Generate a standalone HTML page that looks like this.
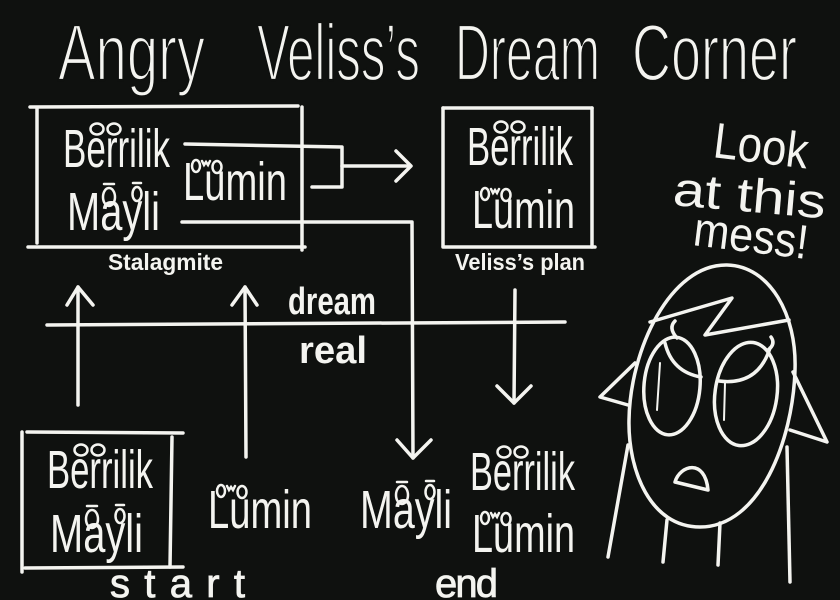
<!DOCTYPE html>
<html><head><meta charset="utf-8">
<style>
html,body{margin:0;padding:0;background:#0f110f;width:840px;height:600px;overflow:hidden;}
svg{display:block}
text{font-family:"Liberation Sans",sans-serif;fill:#f4f4f0;}
.thin{stroke:#0f110f;stroke-width:2.2px;}
</style></head><body>
<svg width="840" height="600" viewBox="0 0 840 600" xmlns="http://www.w3.org/2000/svg">
<rect width="840" height="600" fill="#0f110f"/>

<!-- Title -->
<text class="thin" x="58" y="80" font-size="80" textLength="147" lengthAdjust="spacingAndGlyphs">Angry</text>
<text class="thin" x="257" y="80" font-size="80" textLength="163" lengthAdjust="spacingAndGlyphs">Veliss’s</text>
<text class="thin" x="455" y="80" font-size="80" textLength="145" lengthAdjust="spacingAndGlyphs">Dream</text>
<text class="thin" x="632" y="80" font-size="80" textLength="165" lengthAdjust="spacingAndGlyphs">Corner</text>

<g fill="none" stroke="#f4f4f0" stroke-width="3.5" stroke-linecap="round" stroke-linejoin="round">
  <!-- Stalagmite box -->
  <path d="M30,107 L298,106"/>
  <path d="M37,108 L37,243"/>
  <path d="M28,247 L305,247"/>
  <path d="M302,107 L302,250"/>
  <!-- Veliss's plan box -->
  <path d="M443,108 L443,246"/>
  <path d="M443,108 L592,108"/>
  <path d="M592,108 L592,247"/>
  <path d="M443,247 L595,247"/>
  <!-- start box -->
  <path d="M22,432 L22,572"/>
  <path d="M27,432 L183,433"/>
  <path d="M172,437 L170,567"/>
  <path d="M25,568 L183,567"/>

  <!-- bracket + arrow -->
  <path d="M185,144 L342,147 L342,187 L312,187"/>
  <path d="M342,166 L410,166"/>
  <path d="M396,151 L411,166 L396,181"/>
  <!-- Mayli connector -->
  <path d="M182,222 L412,222 L413,458"/>
  <path d="M397,440 L413,458 L431,440"/>

  <!-- dream / real line -->
  <path d="M47,325 L565,322"/>
  <!-- up arrows -->
  <path d="M78,405 L78,287"/>
  <path d="M67,305 L78,287 L93,305"/>
  <path d="M246,457 L245,287"/>
  <path d="M232,305 L245,287 L257,305"/>
  <!-- down arrow -->
  <path d="M515,290 L514,403"/>
  <path d="M497,386 L514,403 L531,386"/>

  <!-- Face -->
  <path d="M727,265 C770,266 797,315 795,370 C793,440 760,527 700,527 C650,527 628,470 629,420 C630,350 670,264 727,265 Z"/>
  <path d="M650,322 L732,298 L705,335 L789,320"/>
  <path d="M635,363 L600,397 L628,405"/>
  <path d="M793,372 L827,442 L790,430"/>
  <path d="M628,445 L608,557"/>
  <path d="M787,447 L790,582"/>
  <path d="M667,520 L663,562"/>
  <path d="M720,523 L718,565"/>
  <ellipse cx="672" cy="386" rx="28" ry="49" transform="rotate(5 672 386)"/>
  <ellipse cx="746" cy="394" rx="31" ry="52" transform="rotate(8 746 394)"/>
  <path d="M665,343 Q672,372 701,377"/>
  <path d="M677,338 Q668,328 675,321"/>
  <path d="M719,381 Q758,386 770,348"/>
  <path d="M768,350 Q776,344 771,337"/>
  <path d="M675,482 C680,465 705,458 708,490 Z"/>
</g>
<g fill="none" stroke="#f4f4f0" stroke-width="2" stroke-linecap="round">
  <path d="M660,363 L657,410"/>
  <path d="M725,383 L724,420"/>
</g>

<!-- Names: Stalagmite box -->
<text x="63" y="167" font-size="54" textLength="107" lengthAdjust="spacingAndGlyphs">Berrilik</text>
<text x="67" y="230" font-size="54" textLength="93" lengthAdjust="spacingAndGlyphs">Mayli</text>
<text x="183" y="200" font-size="54" textLength="104" lengthAdjust="spacingAndGlyphs">Lumin</text>
<!-- Veliss box -->
<text x="467" y="165" font-size="54" textLength="106" lengthAdjust="spacingAndGlyphs">Berrilik</text>
<text x="472" y="228" font-size="54" textLength="103" lengthAdjust="spacingAndGlyphs">Lumin</text>
<!-- start box -->
<text x="47" y="488" font-size="54" textLength="106" lengthAdjust="spacingAndGlyphs">Berrilik</text>
<text x="50" y="552" font-size="54" textLength="93" lengthAdjust="spacingAndGlyphs">Mayli</text>
<!-- bottom Lumin -->
<text x="208" y="528" font-size="54" textLength="104" lengthAdjust="spacingAndGlyphs">Lumin</text>
<!-- end -->
<text x="360" y="528" font-size="54" textLength="92" lengthAdjust="spacingAndGlyphs">Mayli</text>
<text x="470" y="490" font-size="54" textLength="105" lengthAdjust="spacingAndGlyphs">Berrilik</text>
<text x="472" y="552" font-size="54" textLength="103" lengthAdjust="spacingAndGlyphs">Lumin</text>

<!-- eye decorations -->
<g fill="none" stroke="#f4f4f0" stroke-width="2.5" stroke-linecap="round">
  <!-- Berrilik eyes -->
  <ellipse cx="97" cy="129" rx="6.5" ry="5.5"/><ellipse cx="114" cy="129" rx="6.5" ry="5.5"/>
  <ellipse cx="501" cy="127" rx="6.5" ry="5.5"/><ellipse cx="518" cy="127" rx="6.5" ry="5.5"/>
  <ellipse cx="81" cy="450" rx="6.5" ry="5.5"/><ellipse cx="98" cy="450" rx="6.5" ry="5.5"/>
  <ellipse cx="504" cy="452" rx="6.5" ry="5.5"/><ellipse cx="521" cy="452" rx="6.5" ry="5.5"/>
  <!-- Mayli eyes -->
  <ellipse cx="109" cy="197" rx="6" ry="9"/><ellipse cx="137" cy="194" rx="4.5" ry="7"/>
  <path d="M104,184 L114,184 M133,183 L141,183"/>
  <ellipse cx="92" cy="519" rx="6" ry="9"/><ellipse cx="120" cy="516" rx="4.5" ry="7"/>
  <path d="M87,506 L97,506 M116,505 L124,505"/>
  <ellipse cx="402" cy="495" rx="6" ry="9"/><ellipse cx="430" cy="492" rx="4.5" ry="7"/>
  <path d="M397,482 L407,482 M426,481 L434,481"/>
  <!-- Lumin eyes -->
  <ellipse cx="196" cy="166" rx="4" ry="6"/><ellipse cx="217" cy="167" rx="4.5" ry="6"/>
  <path d="M202,161 l2,4 l2,-3 l2,3 l2,-4"/>
  <ellipse cx="485" cy="194" rx="4" ry="6"/><ellipse cx="506" cy="195" rx="4.5" ry="6"/>
  <path d="M491,189 l2,4 l2,-3 l2,3 l2,-4"/>
  <ellipse cx="221" cy="491" rx="4" ry="6"/><ellipse cx="242" cy="492" rx="4.5" ry="6"/>
  <path d="M227,486 l2,4 l2,-3 l2,3 l2,-4"/>
  <ellipse cx="485" cy="518" rx="4" ry="6"/><ellipse cx="506" cy="519" rx="4.5" ry="6"/>
  <path d="M491,513 l2,4 l2,-3 l2,3 l2,-4"/>
</g>

<!-- small labels -->
<text x="108" y="270" font-size="23" font-weight="bold" textLength="115" lengthAdjust="spacingAndGlyphs">Stalagmite</text>
<text x="455" y="270" font-size="23" font-weight="bold" textLength="130" lengthAdjust="spacingAndGlyphs">Veliss’s plan</text>
<text x="288" y="314" font-size="38" font-weight="bold" textLength="88" lengthAdjust="spacingAndGlyphs">dream</text>
<text x="299" y="363" font-size="38" font-weight="bold" textLength="68" lengthAdjust="spacingAndGlyphs">real</text>
<text x="110" y="597" font-size="40" textLength="135" lengthAdjust="spacing" stroke="#f4f4f0" stroke-width="0.8">start</text>
<text x="435" y="597" font-size="40" textLength="63" lengthAdjust="spacing" stroke="#f4f4f0" stroke-width="0.8">end</text>

<!-- Look at this mess! -->
<text x="712" y="157" font-size="50" textLength="95" lengthAdjust="spacingAndGlyphs" transform="rotate(7 712 157)">Look</text>
<text x="672" y="205" font-size="48" textLength="153" lengthAdjust="spacingAndGlyphs" transform="rotate(5 672 205)">at this</text>
<text x="692" y="245" font-size="48" textLength="115" lengthAdjust="spacingAndGlyphs" transform="rotate(7 692 245)">mess!</text>
</svg>
</body></html>
